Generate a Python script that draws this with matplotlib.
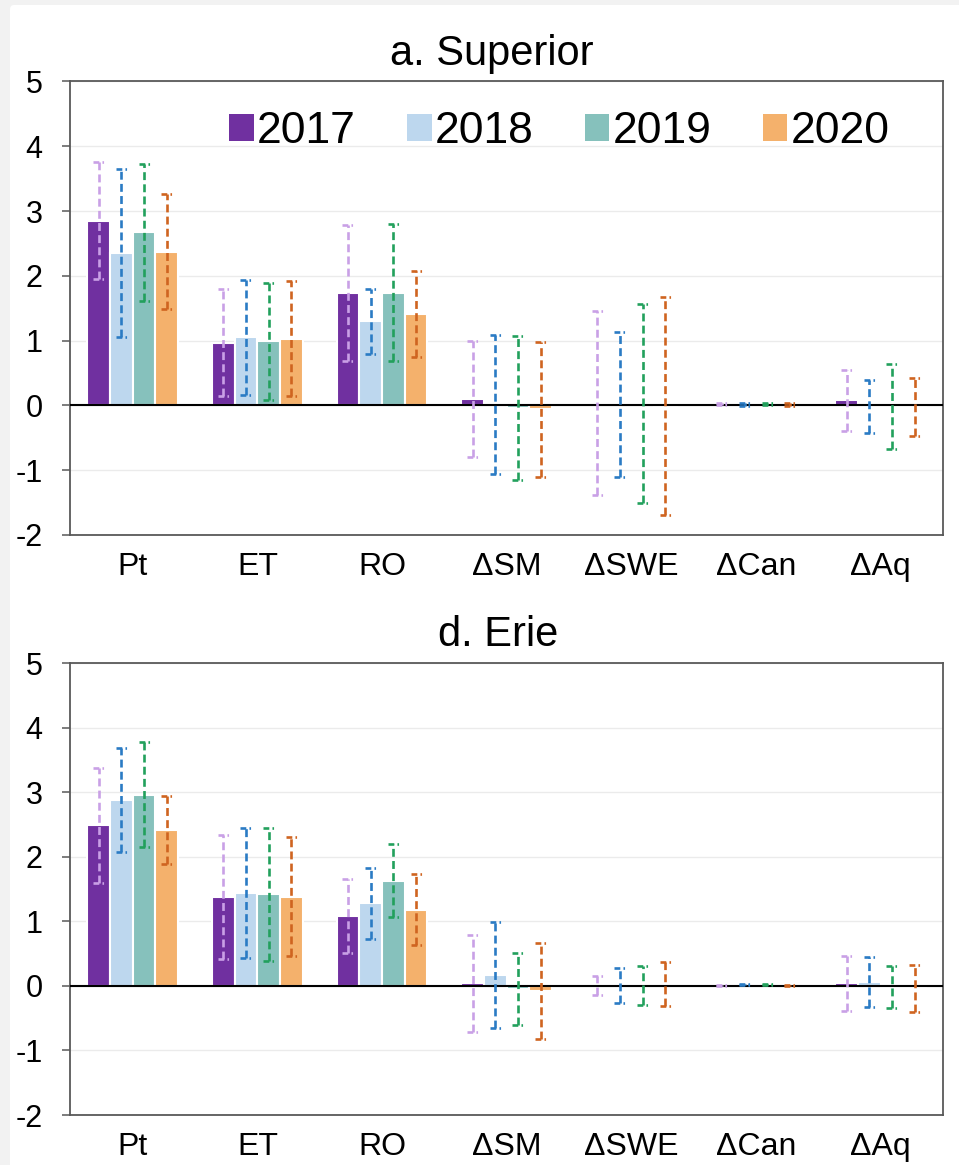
import matplotlib
matplotlib.use('Agg')
import matplotlib.pyplot as plt
from matplotlib.patches import FancyBboxPatch, Patch
import numpy as np

plt.rcParams['font.family'] = ['Liberation Sans', 'DejaVu Sans']
plt.rcParams['axes.unicode_minus'] = False

categories = ['Pt', 'ET', 'RO', 'ΔSM', 'ΔSWE', 'ΔCan', 'ΔAq']
years = ['2017', '2018', '2019', '2020']

# Superior basin storage terms
sup_2017 = [2.85, 0.97, 1.73, 0.10, 0.03, 0.02, 0.08]
sup_2018 = [2.35, 1.05, 1.30, 0.01, 0.02, 0.01, -0.02]
sup_2019 = [2.67, 0.99, 1.74, -0.04, 0.03, 0.02, -0.02]
sup_2020 = [2.37, 1.03, 1.41, -0.06, -0.01, 0.01, -0.02]
sup_err_2017 = [0.90, 0.82, 1.05, 0.90, 1.42, 0.02, 0.47]
sup_err_2018 = [1.30, 0.89, 0.50, 1.07, 1.12, 0.02, 0.41]
sup_err_2019 = [1.06, 0.90, 1.06, 1.11, 1.54, 0.02, 0.66]
sup_err_2020 = [0.89, 0.89, 0.66, 1.04, 1.68, 0.02, 0.45]

# Erie basin storage terms
erie_2017 = [2.49, 1.38, 1.08, 0.04, 0.01, 0.01, 0.04]
erie_2018 = [2.88, 1.44, 1.28, 0.17, 0.00, 0.02, 0.06]
erie_2019 = [2.96, 1.42, 1.63, -0.05, 0.01, 0.02, -0.02]
erie_2020 = [2.41, 1.38, 1.18, -0.08, 0.03, 0.01, -0.04]
erie_err_2017 = [0.89, 0.96, 0.57, 0.75, 0.15, 0.01, 0.43]
erie_err_2018 = [0.80, 1.01, 0.55, 0.82, 0.27, 0.01, 0.39]
erie_err_2019 = [0.81, 1.03, 0.57, 0.56, 0.30, 0.01, 0.33]
erie_err_2020 = [0.53, 0.92, 0.55, 0.75, 0.34, 0.01, 0.37]

bar_colors = ['#7030A0', '#BDD7EE', '#86C1BC', '#F4B16C']
err_colors = ['#C9A0E6', '#2A7BC4', '#22A05C', '#CF6420']

panels = [
    ('a. Superior', 0.483, [sup_2017, sup_2018, sup_2019, sup_2020],
     [sup_err_2017, sup_err_2018, sup_err_2019, sup_err_2020]),
    ('d. Erie', 0.49, [erie_2017, erie_2018, erie_2019, erie_2020],
     [erie_err_2017, erie_err_2018, erie_err_2019, erie_err_2020]),
]

fig = plt.figure(figsize=(9.59, 11.65), dpi=100)
fig.patch.set_facecolor('#F2F2F2')
panel_bg = FancyBboxPatch((10 / 959, -0.05), 1.2, 0.05 + 1 - 5 / 1165,
                          boxstyle='round,pad=0,rounding_size=0.004',
                          transform=fig.transFigure, facecolor='white',
                          edgecolor='none', zorder=-10)
fig.add_artist(panel_bg)

axes_rects = [[0.0735, 0.5408, 0.9098, 0.3893],
              [0.0735, 0.0429, 0.9098, 0.3880]]

x = np.arange(len(categories))
width = 0.182
cap_half = 0.045

for (title, title_x, vals, errs), rect in zip(panels, axes_rects):
    ax = fig.add_axes(rect)
    ax.set_facecolor('none')
    for i in range(4):
        xs = x + (i - 1.5) * width
        ax.bar(xs, vals[i], width, color=bar_colors[i], edgecolor='white',
               linewidth=1.5, zorder=2, label=years[i])
        v = np.array(vals[i])
        e = np.array(errs[i])
        ax.vlines(xs, v - e, v + e, colors=err_colors[i], linewidth=1.9,
                  linestyles=(0, (3.0, 1.6)), zorder=4)
        for yy in (v - e, v + e):
            ax.hlines(yy, xs - cap_half, xs + cap_half, colors=err_colors[i],
                      linewidth=1.9, linestyles=(0, (2.2, 1.2, 0.6, 1.2)), zorder=4)
    ax.axhline(0, color='black', linewidth=1.5, zorder=3)

    ax.set_xlim(-0.5, 6.5)
    ax.set_ylim(-2, 5)
    ax.set_yticks(range(-2, 6))
    ax.yaxis.grid(True, color='#EBEBEB', linewidth=1.0, zorder=0)
    ax.set_axisbelow(True)
    ax.set_xticks(x)
    ax.set_xticklabels(categories)
    ax.tick_params(axis='x', length=0, pad=12, labelsize=23)
    ax.tick_params(axis='y', length=6, width=1.1, color='#595959', pad=14, labelsize=22)
    for s in ax.spines.values():
        s.set_color('#595959')
        s.set_linewidth(1.3)
    ax.set_title(title, fontsize=30, pad=12, x=title_x)

    if title.startswith('a.'):
        handles = [Patch(facecolor=c, edgecolor='none') for c in bar_colors]
        ax.legend(handles, years, loc='center', bbox_to_anchor=(0.5605, 0.8887),
                  ncol=4, frameon=False, fontsize=32, handlelength=0.55,
                  handleheight=0.55, handletextpad=0.08, columnspacing=1.15,
                  borderaxespad=0)

fig.savefig('out.png', dpi=100, facecolor=fig.get_facecolor())
